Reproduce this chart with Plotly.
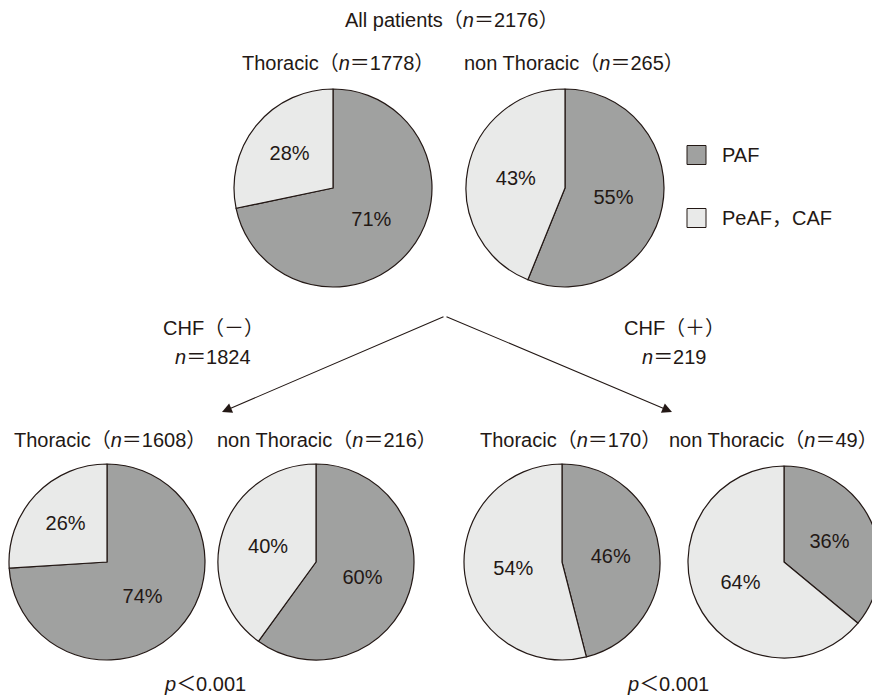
import plotly.graph_objects as go

# ---- data ----
labels = ["PAF", "PeAF，CAF"]
top_titles = ["Thoracic（<i>n</i>＝1778）", "non Thoracic（<i>n</i>＝265）"]
top_paf = [71, 55]
top_peaf = [28, 43]
bottom_titles = ["Thoracic（<i>n</i>＝1608）", "non Thoracic（<i>n</i>＝216）",
                 "Thoracic（<i>n</i>＝170）", "non Thoracic（<i>n</i>＝49）"]
bottom_paf = [74, 60, 46, 36]
bottom_peaf = [26, 40, 54, 64]
main_title = "All patients（<i>n</i>＝2176）"
chf_groups = ["CHF（－）", "CHF（＋）"]
chf_n = ["<i>n</i>＝1824", "<i>n</i>＝219"]
p_values = ["<i>p</i>＜0.001", "<i>p</i>＜0.001"]

# ---- style ----
OFF = 8  # page body margin
W, H = 880 - OFF, 695 - OFF
DARK = "#a0a1a0"
LIGHT = "#e9eae9"
INK = "#231815"
FONT = "Liberation Sans, Arial, Noto Sans CJK JP, sans-serif"
FS = 20


def px(x):
    return (x - OFF) / W


def py(y):
    return 1 - (y - OFF) / H


def dom(cx, cy, r):
    return dict(x=[max(0, px(cx - r)), min(1, px(cx + r))],
                y=[py(cy + r), py(cy - r)])


fig = go.Figure()

top_geo = [(333, 188, 99), (565, 188, 99)]
bot_geo = [(107, 562, 98), (316, 562, 98), (562, 562, 98), (784, 562, 96)]


def add_pie(paf, peaf, geo):
    cx, cy, r = geo
    fig.add_trace(go.Pie(
        labels=labels, values=[paf, peaf],
        text=[f"{paf}%", f"{peaf}%"], textinfo="text",
        textposition="inside", insidetextorientation="horizontal",
        sort=False, direction="clockwise", rotation=0,
        marker=dict(colors=[DARK, LIGHT], line=dict(color=INK, width=1.2)),
        textfont=dict(family=FONT, size=FS, color=INK),
        domain=dom(cx, cy, r), showlegend=False, hoverinfo="label+text",
    ))


for v1, v2, g in zip(top_paf, top_peaf, top_geo):
    add_pie(v1, v2, g)
for v1, v2, g in zip(bottom_paf, bottom_peaf, bot_geo):
    add_pie(v1, v2, g)

ann = []


def text(t, x, y, anchor="left"):
    ann.append(dict(text=t, x=min(1, px(x)), y=py(y), xref="paper", yref="paper",
                    xanchor=anchor, yanchor="middle", showarrow=False,
                    font=dict(family=FONT, size=FS, color=INK)))


text(main_title, 343, 20)
for t, x in zip(top_titles, [240, 462]):
    text(t, x, 63)
for t, x, a in zip(bottom_titles, [12, 215, 478, 880], ["left", "left", "left", "right"]):
    text(t, x, 440, a)
for t, x in zip(chf_groups, [213, 674]):
    text(t, x, 328, "center")
for t, x in zip(chf_n, [213, 674]):
    text(t, x, 357, "center")
for t, x in zip(p_values, [205, 668]):
    text(t, x, 684, "center")

# legend
shapes = []
for lab, y, col in zip(labels, [155, 218], [DARK, LIGHT]):
    shapes.append(dict(type="rect", xref="paper", yref="paper",
                       x0=px(687), x1=px(706), y0=py(y + 9.5), y1=py(y - 9.5),
                       fillcolor=col, line=dict(color=INK, width=1)))
    text(lab, 720, y)

# arrows (tip, from apex)
apex = (445, 316)
for tip in [(222, 412), (672, 412)]:
    ann.append(dict(text="", x=px(tip[0]), y=py(tip[1]), xref="paper", yref="paper",
                    ax=apex[0] - tip[0], ay=apex[1] - tip[1], axref="pixel", ayref="pixel",
                    showarrow=True, arrowhead=2, arrowsize=1.8, arrowwidth=1.1,
                    arrowcolor=INK, standoff=0, startstandoff=0))

fig.update_layout(
    width=W, height=H, margin=dict(l=0, r=0, t=0, b=0),
    paper_bgcolor="white", plot_bgcolor="white",
    annotations=ann, shapes=shapes, showlegend=False,
)

fig.write_html("out.html")
